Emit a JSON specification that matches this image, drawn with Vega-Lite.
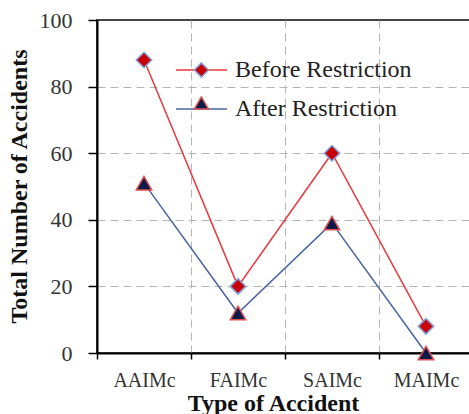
{
  "$schema": "https://vega.github.io/schema/vega-lite/v6.json",
  "autosize": {"type": "none"},
  "padding": {"left": 97, "top": 20, "right": 0, "bottom": 61},
  "width": 376,
  "height": 333,
  "background": "white",
  "config": {
    "view": {"stroke": "#444", "strokeWidth": 2},
    "font": "Liberation Serif"
  },
  "data": {
    "values": [
      {"type": "AAIMc", "series": "Before Restriction", "value": 88},
      {"type": "FAIMc", "series": "Before Restriction", "value": 20},
      {"type": "SAIMc", "series": "Before Restriction", "value": 60},
      {"type": "MAIMc", "series": "Before Restriction", "value": 8},
      {"type": "AAIMc", "series": "After Restriction", "value": 51},
      {"type": "FAIMc", "series": "After Restriction", "value": 12},
      {"type": "SAIMc", "series": "After Restriction", "value": 39},
      {"type": "MAIMc", "series": "After Restriction", "value": 0}
    ]
  },
  "encoding": {
    "x": {
      "field": "type",
      "type": "nominal",
      "sort": ["AAIMc", "FAIMc", "SAIMc", "MAIMc"],
      "scale": {"type": "band", "paddingInner": 0, "paddingOuter": 0},
      "axis": {
        "title": "Type of Accident",
        "titleFont": "Liberation Serif",
        "titleFontSize": 24,
        "titleFontWeight": "bold",
        "titleColor": "#111",
        "titleX": 176,
        "titleY": 57,
        "titleBaseline": "alphabetic",
        "labelFont": "Liberation Serif",
        "labelFontSize": 20,
        "labelColor": "#333",
        "labelAngle": 0,
        "labelBaseline": "alphabetic",
        "labelPadding": 27,
        "tickBand": "extent",
        "tickSize": 6,
        "tickColor": "#000",
        "tickWidth": 1.5,
        "domainColor": "#000",
        "domainWidth": 2,
        "grid": true,
        "gridColor": "#b5b5b5",
        "gridDash": [8, 5],
        "gridWidth": 1
      }
    },
    "y": {
      "field": "value",
      "type": "quantitative",
      "scale": {"domain": [0, 100], "nice": false},
      "axis": {
        "title": "Total Number of Accidents",
        "titleFont": "Liberation Serif",
        "titleFontSize": 24,
        "titleFontWeight": "bold",
        "titleColor": "#111",
        "titleX": -66,
        "titleY": 166,
        "labelFont": "Liberation Serif",
        "labelFontSize": 22,
        "labelColor": "#333",
        "labelPadding": 16,
        "values": [0, 20, 40, 60, 80, 100],
        "tickSize": 9,
        "tickColor": "#000",
        "tickWidth": 1.5,
        "domainColor": "#000",
        "domainWidth": 2,
        "grid": true,
        "gridColor": "#b5b5b5",
        "gridDash": [8, 5],
        "gridWidth": 1,
        "gridOpacity": {"condition": {"test": "datum.value >= 100", "value": 0}, "value": 1}
      }
    }
  },
  "layer": [
    {
      "mark": {"type": "line", "strokeWidth": 1.5},
      "encoding": {
        "color": {
          "field": "series",
          "type": "nominal",
          "scale": {"domain": ["After Restriction", "Before Restriction"], "range": ["#4a64a0", "#e8383d"]},
          "legend": {
            "orient": "none",
            "legendX": 78,
            "legendY": 23.5,
            "title": null,
            "padding": 0,
            "values": ["Before Restriction", "After Restriction"],
            "symbolType": "stroke",
            "symbolSize": 2601,
            "symbolStrokeWidth": 1.5,
            "labelOffset": 7,
            "rowPadding": -25,
            "labelLimit": 400,
            "labelFont": "Liberation Serif",
            "labelFontSize": 24,
            "labelColor": "#222"
          }
        }
      }
    },
    {
      "mark": {"type": "point", "filled": true, "strokeWidth": 1.5, "opacity": 1, "size": 240},
      "encoding": {
        "fill": {
          "field": "series",
          "type": "nominal",
          "scale": {"domain": ["Before Restriction", "After Restriction"], "range": ["#c8000a", "#0d1a48"]},
          "legend": {
            "orient": "none",
            "legendX": 96.4,
            "legendY": 42,
            "title": null,
            "padding": 0,
            "symbolSize": 200,
            "symbolStrokeWidth": 1.5,
            "labelOffset": 0,
            "rowPadding": 12,
            "labelFontSize": 1,
            "labelOpacity": 0
          }
        },
        "shape": {
          "field": "series",
          "type": "nominal",
          "scale": {"domain": ["Before Restriction", "After Restriction"], "range": ["diamond", "triangle-up"]}
        },
        "stroke": {
          "field": "series",
          "type": "nominal",
          "scale": {"domain": ["Before Restriction", "After Restriction"], "range": ["#7ea3d8", "#e05050"]}
        }
      }
    }
  ]
}
